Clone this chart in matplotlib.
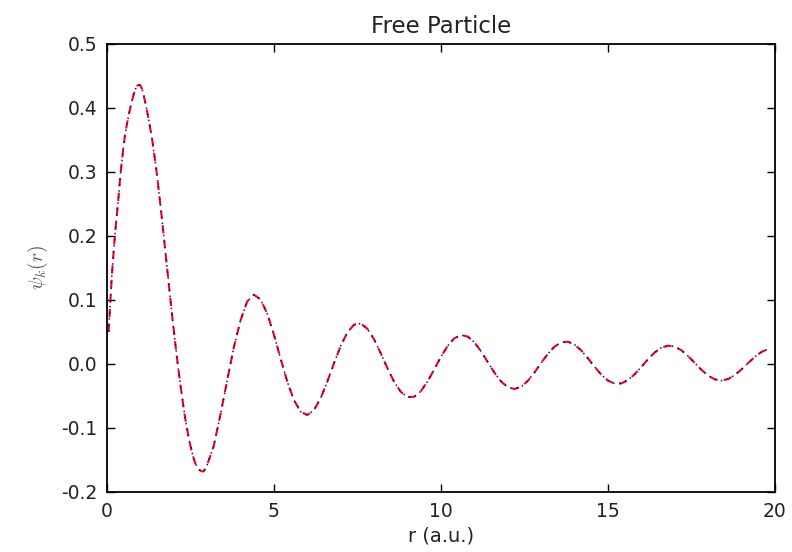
#!/usr/bin/env python3
"""Free particle radial wavefunction, classic matplotlib look."""

import numpy as np
import matplotlib
matplotlib.use('Agg')
import matplotlib.pyplot as plt

# r grid: fine steps near the origin, coarser further out
r_near = np.round(np.arange(0.05, 2.91, 0.05), 2)
r_far = np.round(np.arange(3.0, 19.81, 0.2), 2)

# psi_k(r)
psi_near = [
    0.050, 0.095, 0.140, 0.175, 0.207, 0.235, 0.262, 0.294, 0.318, 0.341,
    0.360, 0.375, 0.388, 0.400, 0.411, 0.421, 0.429, 0.434, 0.436, 0.435,
    0.430, 0.420, 0.408, 0.395, 0.382, 0.367, 0.352, 0.334, 0.315, 0.295,
    0.272, 0.250, 0.225, 0.200, 0.175, 0.150, 0.125, 0.100, 0.076, 0.053,
    0.030, 0.008, -0.013, -0.033, -0.052, -0.070, -0.087, -0.102, -0.116, -0.128,
    -0.139, -0.148, -0.156, -0.161, -0.165, -0.167, -0.168, -0.168,
]
psi_far = [
    -0.158, -0.128, -0.079, -0.026, 0.026, 0.068, 0.0975, 0.108, 0.1007, 0.0784,
    0.0456, 0.0082, -0.0277, -0.0567, -0.0748, -0.0800, -0.0722, -0.0535, -0.0275, 0.0012,
    0.0282, 0.0492, 0.0613, 0.0630, 0.0547, 0.0381, 0.0163, -0.0071, -0.0282, -0.0439,
    -0.0519, -0.0514, -0.0426, -0.0275, -0.0086, 0.0110, 0.0280, 0.0399, 0.0449, 0.0427,
    0.0337, 0.0196, 0.0029, -0.0137, -0.0275, -0.0365, -0.0393, -0.0358, -0.0266, -0.0135,
    0.0014, 0.0156, 0.0269, 0.0336, 0.0346, 0.0301, 0.0210, 0.0087, -0.0047, -0.0169,
    -0.0261, -0.0309, -0.0306, -0.0253, -0.0162, -0.0047, 0.0073, 0.0178, 0.0253, 0.0284,
    0.0269, 0.0212, 0.0121, 0.0014, -0.0094, -0.0184, -0.0243, -0.0261, -0.0237, -0.0175,
    -0.0086, 0.0014, 0.0110, 0.0187, 0.0232,
]

r = np.concatenate([r_near, r_far[:len(psi_far)]])
psi = np.array(psi_near[:len(r_near)] + psi_far)

plt.rcParams['mathtext.fontset'] = 'cm'
plt.rcParams['font.family'] = 'DejaVu Sans'

fig = plt.figure(figsize=(7.92, 5.52), dpi=100)
ax = fig.add_axes([0.135, 0.109, 0.8435, 0.8115])

ax.plot(r, psi, '--', color='red', linewidth=1.5, dashes=(4, 3))
ax.plot(r, psi, ':', color='blue', linewidth=1.1, dashes=(1, 3))

ax.set_xlim(0, 20)
ax.set_ylim(-0.2, 0.5)
ax.set_xticks([0, 5, 10, 15, 20])
ax.set_yticks(np.arange(-0.2, 0.51, 0.1))
ax.set_yticklabels(['%.1f' % v for v in np.arange(-0.2, 0.51, 0.1)])
ax.tick_params(direction='in', top=True, right=True, length=6, width=1,
               labelsize=13.5, pad=7, colors='black', labelcolor='#222222')
for s in ax.spines.values():
    s.set_linewidth(1.3)

ax.set_title('Free Particle', fontsize=16.5, color='#222222', pad=8)
ax.set_xlabel('r (a.u.)', fontsize=14, color='#222222', labelpad=4)
ax.set_ylabel(r'$\psi_k(r)$', fontsize=14, color='0.35', labelpad=8)

fig.savefig('out.png', dpi=100)
